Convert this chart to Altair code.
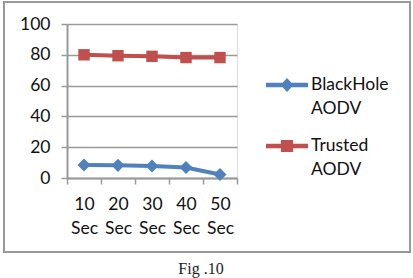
import altair as alt
import pandas as pd

categories = ["10 Sec", "20 Sec", "30 Sec", "40 Sec", "50 Sec"]
blackhole = [8.5, 8.2, 7.8, 6.8, 2.3]
trusted = [80.0, 79.4, 79.0, 78.2, 78.2]
series_names = ["BlackHole AODV", "Trusted AODV"]
colors = ["#4F81BD", "#C0504D"]
y_ticks = [0, 20, 40, 60, 80, 100]

rows = []
for c, v in zip(categories, blackhole):
    rows.append({"time": c, "value": v, "series": series_names[0]})
for c, v in zip(categories, trusted):
    rows.append({"time": c, "value": v, "series": series_names[1]})
df = pd.DataFrame(rows)

FONT = "Lato"
FS = 17.5
AX = "#999999"

x_enc = alt.X(
    "time:N", sort=categories, title=None,
    scale=alt.Scale(paddingInner=0, paddingOuter=0),
    axis=alt.Axis(
        labelAngle=0, labelExpr="split(datum.label, ' ')", labelLineHeight=24,
        labelFontSize=FS, labelFont=FONT, labelColor="#111111", labelPadding=11,
        tickBand="extent", tickSize=6, tickColor=AX, domainColor=AX,
        domainWidth=2, tickWidth=1.5, grid=False,
    ),
)
y_enc = alt.Y(
    "value:Q", title=None, scale=alt.Scale(domain=[0, 100], nice=False),
    axis=alt.Axis(
        values=y_ticks, labelFontSize=FS, labelFont=FONT, labelColor="#111111",
        labelPadding=11, tickSize=6, tickColor=AX, tickWidth=1.5,
        domainColor=AX, domainWidth=2, gridColor="#9a9a9a", gridWidth=1.3,
    ),
)
color_scale = alt.Scale(domain=series_names, range=colors)
diamond_path = "M-1,-0.105H1V0.105H-1Z M0,-0.335L0.31,0L0,0.335L-0.31,0Z"
square_path = "M-1,-0.105H1V0.105H-1Z M-0.29,-0.29H0.29V0.29H-0.29Z"

legend_def = alt.Legend(
    orient="none", legendX=199, legendY=40,
    symbolSize=1764, symbolOpacity=1, symbolStrokeWidth=0,
    symbolType=diamond_path,
    labelExpr="split(datum.label, ' ')",
    labelFontSize=FS, labelFont=FONT, labelColor="#111111",
    labelOffset=3, labelLimit=200,
    rowPadding=7, labelBaseline="middle",
)
color_enc = alt.Color("series:N", scale=color_scale, title=None, legend=legend_def)
shape_enc = alt.Shape("series:N",
                      scale=alt.Scale(domain=series_names, range=[diamond_path, square_path]),
                      title=None, legend=legend_def)

base = alt.Chart(df)
lines = base.mark_line(strokeWidth=4).encode(x=x_enc, y=y_enc, color=color_enc)
pts_bh = base.transform_filter(alt.datum.series == series_names[0]).mark_point(
    shape="diamond", filled=True, size=170, opacity=1
).encode(x=x_enc, y=y_enc, color=color_enc)
pts_tr = base.transform_filter(alt.datum.series == series_names[1]).mark_point(
    shape="square", filled=True, size=130, opacity=1
).encode(x=x_enc, y=y_enc, color=color_enc)
legend_layer = base.mark_point(filled=True, opacity=0).encode(
    x=x_enc, y=y_enc, color=color_enc, shape=shape_enc,
)
border = alt.Chart(pd.DataFrame({"k": [1]})).mark_rect(
    fill=None, fillOpacity=0, stroke="#999999", strokeWidth=2
).encode(x=alt.value(-63), x2=alt.value(343), y=alt.value(-22), y2=alt.value(228))

chart = alt.layer(border, lines, pts_bh, pts_tr, legend_layer).properties(
    width=170, height=154,
    title=alt.Title("Fig .10", orient="bottom", font="Liberation Serif", fontSize=16,
                    fontWeight="normal", color="#222222", dx=49, offset=8),
    padding={"left": 67, "top": 24, "right": 176, "bottom": 100},
    autosize=alt.AutoSizeParams(type="none"),
).configure_view(stroke=None).configure(
    background="white",
    style={"guide-label": {"lineHeight": 24}},
)

chart.save("out.html", embed_options={"renderer": "svg", "actions": False})
